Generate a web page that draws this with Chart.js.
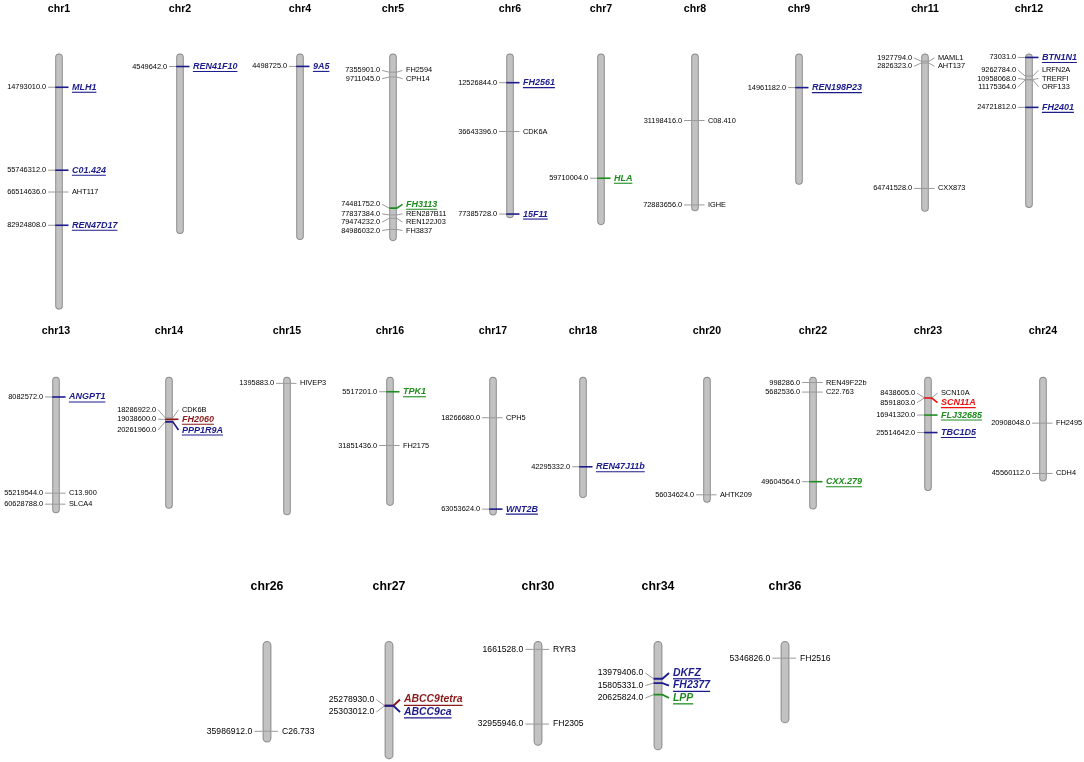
<!DOCTYPE html>
<html>
<head>
<meta charset="utf-8">
<script src="https://cdn.jsdelivr.net/npm/chart.js@4.4.1/dist/chart.umd.min.js"></script>
<style>
  html, body { margin: 0; padding: 0; background: #fff; }
  #wrap { position: relative; width: 1084px; height: 762px; overflow: hidden; }
  #wrap canvas { position: absolute; }
</style>
</head>
<body>
<div id="wrap"></div>
<script>
console.log('Initializing ideogram...')

// chromosome names and lengths (bp)
const chromNames = ['chr1', 'chr2', 'chr4', 'chr5', 'chr6', 'chr7', 'chr8', 'chr9', 'chr11', 'chr12',
  'chr13', 'chr14', 'chr15', 'chr16', 'chr17', 'chr18', 'chr20', 'chr22', 'chr23', 'chr24',
  'chr26', 'chr27', 'chr30', 'chr34', 'chr36']
const chromLengths = [122700000, 85400000, 88300000, 88900000, 77600000, 81000000, 74100000, 61100000, 74400000, 72500000,
  63200000, 61000000, 64200000, 59600000, 64300000, 55800000, 58100000, 61400000, 52300000, 47700000,
  38800000, 45900000, 40200000, 42100000, 30800000]

// markers: chromosome, position (bp), name, group (0 = plain marker)
const markerChrom = ['chr1', 'chr1', 'chr1', 'chr1', 'chr2', 'chr4',
  'chr5', 'chr5', 'chr5', 'chr5', 'chr5', 'chr5',
  'chr6', 'chr6', 'chr6', 'chr7', 'chr8', 'chr8', 'chr9',
  'chr11', 'chr11', 'chr11', 'chr12', 'chr12', 'chr12', 'chr12', 'chr12',
  'chr13', 'chr13', 'chr13', 'chr14', 'chr14', 'chr14', 'chr15', 'chr16', 'chr16',
  'chr17', 'chr17', 'chr18', 'chr20', 'chr22', 'chr22', 'chr22',
  'chr23', 'chr23', 'chr23', 'chr23', 'chr24', 'chr24',
  'chr26', 'chr27', 'chr27', 'chr30', 'chr30', 'chr34', 'chr34', 'chr34', 'chr36']
const markerPos = [14793010, 55746312, 66514636, 82924808, 4549642, 4498725,
  7355901, 9711045, 74481752, 77837384, 79474232, 84986032,
  12526844, 36643396, 77385728, 59710004, 31198416, 72883656, 14961182,
  1927794, 2826323, 64741528, 73031, 9262784, 10958068, 11175364, 24721812,
  8082572, 55219544, 60628788, 18286922, 19038600, 20261960, 1395883, 5517201, 31851436,
  18266680, 63053624, 42295332, 56034624, 998286, 5682536, 49604564,
  8438605, 8591803, 16941320, 25514642, 20908048, 45560112,
  35986912, 25278930, 25303012, 1661528, 32955946, 13979406, 15805331, 20625824, 5346826]
const markerName = ['MLH1', 'C01.424', 'AHT117', 'REN47D17', 'REN41F10', '9A5',
  'FH2594', 'CPH14', 'FH3113', 'REN287B11', 'REN122J03', 'FH3837',
  'FH2561', 'CDK6A', '15F11', 'HLA', 'C08.410', 'IGHE', 'REN198P23',
  'MAML1', 'AHT137', 'CXX873', 'BTN1N1', 'LRFN2A', 'TRERFI', 'ORF133', 'FH2401',
  'ANGPT1', 'C13.900', 'SLCA4', 'CDK6B', 'FH2060', 'PPP1R9A', 'HIVEP3', 'TPK1', 'FH2175',
  'CPH5', 'WNT2B', 'REN47J11b', 'AHTK209', 'REN49F22b', 'C22.763', 'CXX.279',
  'SCN10A', 'SCN11A', 'FLJ32685', 'TBC1D5', 'FH2495', 'CDH4',
  'C26.733', 'ABCC9tetra', 'ABCC9ca', 'RYR3', 'FH2305', 'DKFZ', 'FH2377', 'LPP', 'FH2516']
const markerGroup = [1, 1, 0, 1, 1, 1,
  0, 0, 2, 0, 0, 0,
  1, 0, 1, 2, 0, 0, 1,
  0, 0, 0, 1, 0, 0, 0, 1,
  1, 0, 0, 0, 4, 1, 0, 2, 0,
  0, 1, 1, 0, 0, 0, 2,
  0, 3, 2, 1, 0, 0,
  0, 4, 1, 0, 0, 1, 1, 2, 0]

// page layout: which chromosomes sit in each row, and where
const rowChroms = [
  ['chr1', 'chr2', 'chr4', 'chr5', 'chr6', 'chr7', 'chr8', 'chr9', 'chr11', 'chr12'],
  ['chr13', 'chr14', 'chr15', 'chr16', 'chr17', 'chr18', 'chr20', 'chr22', 'chr23', 'chr24'],
  ['chr26', 'chr27', 'chr30', 'chr34', 'chr36']
]
const rowCenters = [
  [59, 180.3, 300.3, 392.7, 510, 601, 695.3, 799, 925, 1028.7],
  [56, 169, 286.7, 390, 493.3, 582.7, 706.7, 812.7, 927.7, 1042.7],
  [267.3, 389.3, 537.7, 658, 784.7]
]
const rowTop = [0, 320, 560]
const rowHeight = [320, 240, 202]
const rowZeroY = [57.3, 380.5, 645.4]      // page y of position 0
const rowPxPerBp = [2.0255e-6, 2.04e-6, 2.387e-6]
const rowTitleY = [9, 331, 587]
const rowScale = [1, 1, 1.16]

const FONT = "'Liberation Sans', Arial, Helvetica, sans-serif"
const LINE_GRAY = '#9a9a9a'
const BAR_EDGE = '#8a8a8a'
const BAR_FILL = '#c2c2c2'
const GROUP_COLORS = { 1: '#1c1c8c', 2: '#1e8c1e', 3: '#ee1111', 4: '#8b1a1a' }
const CANVAS_W = 200

// push overlapping labels apart, keeping each cluster centred on its markers
function spreadLabels(items) {
  const clusters = items.map(it => [it])
  const place = c => {
    const offs = [0]
    for (let k = 1; k < c.length; k++) offs.push(offs[k - 1] + (c[k - 1].h + c[k].h) / 2)
    const meanOff = offs.reduce((a, b) => a + b, 0) / offs.length
    const meanIdeal = c.reduce((a, m) => a + m.ideal, 0) / c.length
    c.forEach((m, k) => { m.y = meanIdeal - meanOff + offs[k] })
  }
  let merged = true
  while (merged) {
    merged = false
    clusters.forEach(place)
    for (let i = 0; i < clusters.length - 1; i++) {
      const a = clusters[i][clusters[i].length - 1]
      const b = clusters[i + 1][0]
      if (b.y - a.y < (a.h + b.h) / 2 - 0.01) {
        clusters[i].push(...clusters[i + 1])
        clusters.splice(i + 1, 1)
        merged = true
        break
      }
    }
  }
}

function makeLabelPlugin(title, markers, s, titleY, barWidth) {
  return {
    id: 'labels',
    afterDatasetsDraw(chart) {
      const ctx = chart.ctx
      const yScale = chart.scales.y
      const cx = chart.scales.x.getPixelForValue(0)
      const half = barWidth / 2

      ctx.save()
      ctx.fillStyle = '#000'
      ctx.font = `bold ${10.6 * s}px ${FONT}`
      ctx.textAlign = 'center'
      ctx.textBaseline = 'middle'
      ctx.fillText(title, cx, titleY)

      const items = markers
        .slice()
        .sort((a, b) => a.pos - b.pos)
        .map(m => Object.assign({}, m, {
          ideal: yScale.getPixelForValue(m.pos),
          h: (m.group ? 10.8 : 8.3) * s
        }))
      spreadLabels(items)

      items.forEach(m => {
        const col = m.group ? GROUP_COLORS[m.group] : LINE_GRAY
        ctx.lineCap = 'butt'
        ctx.lineWidth = 1
        ctx.strokeStyle = LINE_GRAY
        ctx.beginPath()
        ctx.moveTo(cx - 10.9 * s, m.y)
        ctx.lineTo(cx - half, m.ideal)
        ctx.stroke()

        ctx.lineWidth = m.group ? 1.6 * s : 1
        ctx.strokeStyle = col
        ctx.beginPath()
        ctx.moveTo(cx - half, m.ideal)
        ctx.lineTo(cx + half, m.ideal)
        ctx.lineTo(cx + 9.5 * s, m.y)
        ctx.stroke()

        ctx.fillStyle = '#000'
        ctx.font = `${7.4 * s}px ${FONT}`
        ctx.textAlign = 'right'
        ctx.fillText(m.pos.toFixed(1), cx - 12.8 * s, m.y)

        ctx.textAlign = 'left'
        const tx = cx + 12.9 * s
        if (m.group) {
          ctx.font = `italic bold ${9 * s}px ${FONT}`
          ctx.fillStyle = col
          ctx.fillText(m.name, tx, m.y)
          const w = ctx.measureText(m.name).width
          ctx.lineWidth = 1.1 * s
          ctx.strokeStyle = col
          ctx.beginPath()
          ctx.moveTo(tx, m.y + 5 * s)
          ctx.lineTo(tx + w, m.y + 5 * s)
          ctx.stroke()
        } else {
          ctx.fillText(m.name, tx, m.y)
        }
      })
      ctx.restore()
    }
  }
}

function renderChromosome(name, row, center) {
  const idx = chromNames.indexOf(name)
  const len = chromLengths[idx]
  const s = rowScale[row]
  const markers = []
  markerChrom.forEach((c, i) => {
    if (c === name) markers.push({ pos: markerPos[i], name: markerName[i], group: markerGroup[i] })
  })

  const canvas = document.createElement('canvas')
  canvas.width = CANVAS_W
  canvas.height = rowHeight[row]
  canvas.style.left = (center - CANVAS_W / 2) + 'px'
  canvas.style.top = rowTop[row] + 'px'
  document.getElementById('wrap').appendChild(canvas)

  const padTop = rowZeroY[row] - rowTop[row]
  const padBottom = 4
  const yMax = (rowHeight[row] - padTop - padBottom) / rowPxPerBp[row]
  const barWidth = 7.6 * s

  const barData = [{ x: name, y: 0 }, { x: name, y: len }]

  new Chart(canvas, {
    type: 'line',
    data: {
      labels: [name],
      datasets: [{
        // outline, drawn first
        data: barData,
        borderColor: BAR_EDGE,
        borderWidth: barWidth,
        borderCapStyle: 'round',
        pointRadius: 0,
        clip: false,
        order: 2
      }, {
        // light fill on top
        data: barData,
        borderColor: BAR_FILL,
        borderWidth: barWidth - 2,
        borderCapStyle: 'round',
        pointRadius: 0,
        clip: false,
        order: 1
      }]
    },
    options: {
      responsive: false,
      animation: false,
      events: [],
      layout: { padding: { top: padTop, bottom: padBottom, left: 0, right: 0 } },
      plugins: { legend: { display: false }, tooltip: { enabled: false } },
      scales: {
        x: { type: 'category', display: false, offset: true },
        y: { type: 'linear', reverse: true, min: 0, max: yMax, display: false }
      }
    },
    plugins: [makeLabelPlugin(name, markers, s, rowTitleY[row] - rowTop[row], barWidth)]
  })
}

rowChroms.forEach((names, row) => {
  names.forEach((name, k) => renderChromosome(name, row, rowCenters[row][k]))
})
</script>
</body>
</html>
